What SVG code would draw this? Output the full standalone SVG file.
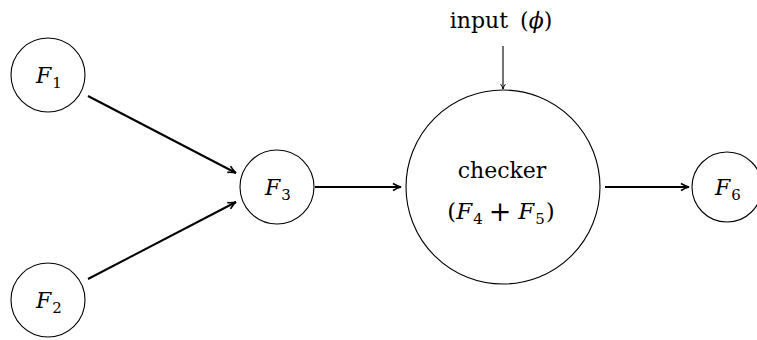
<svg xmlns="http://www.w3.org/2000/svg" width="757" height="340" viewBox="0 0 757 340">
<style>
.n{fill:#fff;stroke:#000;stroke-width:1.1}
text{font-family:'DejaVu Serif','Liberation Serif',serif;font-size:22px;fill:#000}
.i{font-style:italic}
.s{font-size:15px}
.e{stroke:#000;stroke-width:2;fill:none}
.e1{stroke:#000;stroke-width:1.1;fill:none}
</style>
<defs>
<marker id="ah" viewBox="0 0 10 10" refX="9" refY="5" markerWidth="6" markerHeight="6" orient="auto" markerUnits="userSpaceOnUse">
<path d="M1,1 Q5,4 9,5 Q5,6 1,9" fill="none" stroke="#000" stroke-width="1.6"/>
</marker>
<marker id="ah2" viewBox="0 0 10 10" refX="9" refY="5" markerWidth="10" markerHeight="10" orient="auto" markerUnits="userSpaceOnUse">
<path d="M1,1.5 Q5,4 9,5 Q5,6 1,8.5" fill="none" stroke="#000" stroke-width="1.6"/>
</marker>
</defs>
<g id="connectors">
<line class="e" x1="88" y1="96" x2="236" y2="173" marker-end="url(#ah2)"/>
<line class="e" x1="88" y1="279" x2="236" y2="202" marker-end="url(#ah2)"/>
<line class="e" x1="315" y1="187" x2="401" y2="187" marker-end="url(#ah2)"/>
<line class="e" x1="605" y1="187" x2="689" y2="187" marker-end="url(#ah2)"/>
<line class="e1" x1="503" y1="46" x2="503" y2="89" marker-end="url(#ah)"/>
</g>
<g id="F1">
<circle class="n" cx="48" cy="75" r="37"/>
<text x="49" y="83" text-anchor="middle"><tspan class="i">F</tspan><tspan class="s" dx="1" dy="5">1</tspan></text>
</g>
<g id="F2">
<circle class="n" cx="48" cy="300" r="37"/>
<text x="49" y="308" text-anchor="middle"><tspan class="i">F</tspan><tspan class="s" dx="1" dy="5">2</tspan></text>
</g>
<g id="F3">
<circle class="n" cx="277" cy="187" r="37"/>
<text x="278" y="195" text-anchor="middle"><tspan class="i">F</tspan><tspan class="s" dx="1" dy="5">3</tspan></text>
</g>
<g id="checker">
<circle class="n" cx="503" cy="187" r="97"/>
<text x="502" y="178" text-anchor="middle">checker</text>
<text x="501" y="219" text-anchor="middle" style="font-size:23px">(<tspan class="i">F</tspan><tspan class="s" dx="1" dy="5">4</tspan><tspan dx="6" dy="-3" style="font-size:27px">+</tspan><tspan class="i" dx="7" dy="-2">F</tspan><tspan class="s" dx="1" dy="5">5</tspan><tspan dx="1" dy="-5">)</tspan></text>
</g>
<g id="F6">
<circle class="n" cx="727" cy="187" r="35"/>
<text x="728" y="195" text-anchor="middle"><tspan class="i">F</tspan><tspan class="s" dx="1" dy="5">6</tspan></text>
</g>
<g id="input">
<text x="501" y="28" text-anchor="middle">input<tspan dx="12">(</tspan><tspan class="i">ϕ</tspan>)</text>
</g>
</svg>
